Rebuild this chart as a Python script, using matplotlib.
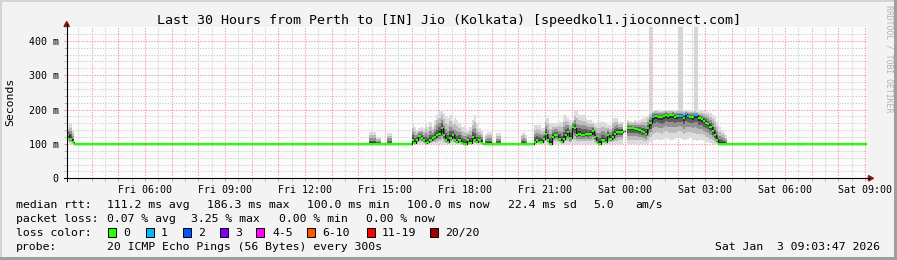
import numpy as np
import matplotlib
matplotlib.use("Agg")
import matplotlib.pyplot as plt
from matplotlib.patches import Rectangle, Polygon

# ---------------------------------------------------------------- data
title = "Last 30 Hours from Perth to [IN] Jio (Kolkata) [speedkol1.jioconnect.com]"
y_label = "Seconds"
x_tick_labels = ["Fri 06:00", "Fri 09:00", "Fri 12:00", "Fri 15:00", "Fri 18:00",
                 "Fri 21:00", "Sat 00:00", "Sat 03:00", "Sat 06:00", "Sat 09:00"]
y_tick_values = [0, 100, 200, 300, 400]
y_tick_labels = ["0", "100 m", "200 m", "300 m", "400 m"]

window_start = "Fri 03:03:47"
window_end = "Sat 09:03:47"
first_slot = "Fri 03:05"
slot_minutes = 5
n_slots = 360
baseline_ms = 100.0

# short burst at the left edge
burstA_start = "Fri 03:05"
burstA_median = [127, 115, 106]
burstA_top = [150, 160, 140]
burstA_bottom = [105, 100, 100]

# afternoon burst
burstB_start = "Fri 16:00"
burstB_median = [111, 103, 111, 123, 118, 111, 103, 106, 111, 116,
                 119, 125, 130, 145, 125, 111, 105, 118, 125, 111,
                 105, 111, 104, 100, 100, 111, 103, 121, 111, 105,
                 111, 104]
burstB_top = [160, 150, 140, 145, 150, 145, 160, 150, 165, 150,
              170, 185, 195, 198, 190, 180, 175, 185, 165, 175,
              170, 160, 150, 150, 145, 140, 150, 170, 185, 160,
              145, 140]

# evening / night burst incl. high plateau
nan = float("nan")
burstC_start = "Fri 20:35"
burstC_median = [106, 112, 106, 106, 114, 130, 111, 101, 121, 126,
                 126, 115, 105, 115, 126, 135, 118, 150, 145, 126,
                 130, 126, 126, 130, 128, 130, 137, 121, 106, 100,
                 111, 111, 106, 126, 115, 121, 130, 135, 136, 136,
                 137, nan, 145, 145, 145, 143, 143, 140, 138, 135,
                 130, 145, 160, 179, 181, 181, 179, 178, 180, 184,
                 181, 183, 184, 179, 180, 182, 182, 174, 187, 182,
                 179, 179, 184, 184, 174, 172, 167, 162, 158, 150,
                 137, 125, 110, 100]
burstC_top = [155, 155, 155, 146, 146, 175, 175, 160, 160, 160,
              160, 165, 165, 184, 184, 175, 170, 170, 195, 195,
              184, 184, 184, 175, 170, 170, 165, 160, 160, 165,
              165, 165, 160, 155, 155, 175, 175, 175, 165, 165,
              165, nan, 170, 168, 165, 170, 168, 170, 172, 175,
              178, 182, 198, 200, 200, 200, 199, 200, 200, 200,
              200, 200, 200, 199, 200, 200, 200, 200, 200, 199,
              200, 200, 199, 198, 198, 197, 196, 195, 193, 190,
              185, 178, 165, 150]
burstC_bottom = [100, 100, 100, 100, 100, 100, 100, 100, 100, 100,
                 100, 100, 100, 100, 100, 100, 100, 100, 100, 100,
                 100, 100, 100, 100, 100, 100, 100, 100, 100, 100,
                 100, 100, 100, 100, 100, 100, 100, 100, 100, 100,
                 100, nan, 100, 100, 100, 100, 100, 100, 100, 100,
                 100, 100, 105, 110, 112, 115, 112, 110, 115, 118,
                 115, 112, 110, 115, 118, 120, 115, 112, 110, 115,
                 118, 112, 110, 108, 110, 112, 108, 105, 105, 102,
                 100, 100, 100, 100]

# light smoke while the median stays at the baseline
quiet_smoke_times = ["Fri 14:25", "Fri 14:30", "Fri 14:35", "Fri 14:40", "Fri 14:45",
                     "Fri 15:05", "Fri 15:10", "Fri 18:45", "Fri 18:50", "Fri 18:55",
                     "Fri 19:10", "Fri 19:15", "Fri 20:05", "Fri 20:10", "Fri 20:15",
                     "Sat 03:35", "Sat 03:40", "Sat 03:45"]
quiet_smoke_top = [135, 135, 135, 120, 120, 133, 133, 130, 135, 135,
                   131, 131, 130, 135, 125, 140, 135, 125]

# single outlier pings that run off the top of the chart
spike_times = ["Sat 00:55", "Sat 02:00", "Sat 02:05", "Sat 02:35", "Sat 02:40"]
spike_ms = [445, 445, 445, 445, 445]

# slots with 1/20 packet loss
loss1_times = ["Sat 01:00", "Sat 02:00", "Sat 02:05", "Sat 02:15", "Sat 02:20",
               "Sat 02:35", "Sat 02:40"]

loss_labels = ["0", "1", "2", "3", "4-5", "6-10", "11-19", "20/20"]
loss_colors = ["#26ff00", "#00b8ff", "#0059ff", "#7e00ff", "#ff00ff",
               "#ff5500", "#ff0000", "#a10000"]

median_stats = ["111.2 ms avg", "186.3 ms max", "100.0 ms min", "100.0 ms now",
                "22.4 ms sd", "5.0", "am/s"]
loss_stats = ["0.07 % avg", "3.25 % max", "0.00 % min", "0.00 % now"]
probe_text = "20 ICMP Echo Pings (56 Bytes) every 300s"
stamp_text = "Sat Jan  3 09:03:47 2026"
credit_text = "RRDTOOL / TOBI OETIKER"


# ---------------------------------------------------------------- helpers
def to_hours(label):
    day, clock = label.split()
    parts = [int(p) for p in clock.split(":")]
    while len(parts) < 3:
        parts.append(0)
    return (0 if day == "Fri" else 24) + parts[0] + parts[1] / 60 + parts[2] / 3600


step_h = slot_minutes / 60
t0 = to_hours(first_slot)
slot_t = t0 + step_h * np.arange(n_slots)
med = np.full(n_slots, baseline_ms)
top = med.copy()
bot = med.copy()
loss = np.zeros(n_slots, dtype=int)


def idx(label):
    return int(round((to_hours(label) - t0) / step_h))


def put(start, m, tp, bt=None):
    i = idx(start)
    n = len(m)
    med[i:i + n] = m
    top[i:i + n] = tp
    if bt is not None:
        bot[i:i + n] = bt


put(burstA_start, burstA_median, burstA_top, burstA_bottom)
put(burstB_start, burstB_median, burstB_top)
put(burstC_start, burstC_median, burstC_top, burstC_bottom)
for tl, v in zip(quiet_smoke_times, quiet_smoke_top):
    top[idx(tl)] = v
for tl in loss1_times:
    loss[idx(tl)] = 1
top = np.where(np.isfinite(med), np.maximum(top, med), np.nan)

# ---------------------------------------------------------------- figure
W, H, DPI = 897, 260, 100
BG = "#f3f3f3"
fig = plt.figure(figsize=(W / DPI, H / DPI), dpi=DPI, facecolor=BG)

AX_L, AX_R, AX_T, AX_B = 66.7, 866.7, 27.0, 178.3
ax = fig.add_axes([AX_L / W, 1 - AX_B / H, (AX_R - AX_L) / W, (AX_B - AX_T) / H])
ax.set_facecolor("#fcfcfc")
ax.set_xlim(to_hours(window_start), to_hours(window_end))
ax.set_ylim(0, 440)

mono = "DejaVu Sans Mono"

# grid
hour_lines = np.arange(4, 34)
half_lines = np.arange(3.5, 33.5, 1.0)
x_tick_pos = [to_hours(l) for l in x_tick_labels]
lab = [x_tick_labels[x_tick_pos.index(h)] if h in x_tick_pos else "" for h in hour_lines]
ax.set_xticks(hour_lines, lab)
ax.set_xticks(half_lines, minor=True)
ax.set_yticks(y_tick_values, y_tick_labels)
ax.set_yticks(np.arange(20, 440, 20), minor=True)
ax.set_axisbelow(True)
ax.grid(which="major", color="#f2a0a0", linestyle=(0, (1.3, 1.3)), linewidth=0.75)
ax.grid(which="minor", color="#d0d0d0", linestyle=(0, (1.3, 1.3)), linewidth=0.75)

ax.tick_params(axis="both", which="major", length=2.5, width=0.7, color="#e39090",
               labelsize=7.2, labelcolor="#000000")
ax.tick_params(axis="both", which="minor", length=2.0, width=0.7, color="#b8b8b8")
ax.tick_params(axis="x", which="major", pad=2.4)
ax.tick_params(axis="y", which="major", pad=3.4)
for t in ax.get_xticklabels() + ax.get_yticklabels():
    t.set_family(mono)

for s in ["top", "right"]:
    ax.spines[s].set_visible(False)
for s in ["left", "bottom"]:
    ax.spines[s].set_color("#000000")
    ax.spines[s].set_linewidth(0.75)

# outlier spikes
for tl, v in zip(spike_times, spike_ms):
    i = idx(tl)
    ax.bar(slot_t[i], v - top[i], bottom=top[i], width=step_h, align="edge",
           color="#d6d6d6", linewidth=0, zorder=2)

# smoke
edges = np.append(slot_t, slot_t[-1] + step_h)
fracs = [1.0, 0.72, 0.48, 0.28, 0.12]
shades = ["#dcdcdc", "#bcbcbc", "#929292", "#5e5e5e", "#2e2e2e"]
for f, c in zip(fracs, shades):
    hi = med + f * (top - med)
    lo = med - f * (med - bot)
    ax.fill_between(edges, np.append(lo, lo[-1]), np.append(hi, hi[-1]), step="post",
                    color=c, linewidth=0, zorder=3)

# median line with dark connectors
ax.step(edges, np.append(med, med[-1]), where="post", color="#151515", linewidth=0.9, zorder=4)
ok = np.isfinite(med)
ax.hlines(med[ok], slot_t[ok], slot_t[ok] + step_h,
          colors=[loss_colors[k] for k in loss[ok]], linewidth=1.6, zorder=5,
          capstyle="butt")


# axis extension + arrows (pixel coordinates)
def fx(x):
    return x / W


def fy(y):
    return 1 - y / H


arrow_c = "#8b1a1a"
fig.add_artist(plt.Line2D([fx(AX_L), fx(AX_L)], [fy(AX_B + 2.5), fy(24)], color="#000000",
                          linewidth=0.75))
fig.add_artist(plt.Line2D([fx(AX_L - 2.5), fx(870)], [fy(AX_B), fy(AX_B)], color="#000000",
                          linewidth=0.75))
fig.add_artist(Polygon([[fx(AX_L - 2.7), fy(26.5)], [fx(AX_L + 2.7), fy(26.5)], [fx(AX_L), fy(21.5)]],
                       closed=True, color=arrow_c, transform=fig.transFigure))
fig.add_artist(Polygon([[fx(868.5), fy(AX_B - 2.7)], [fx(868.5), fy(AX_B + 2.7)], [fx(873.5), fy(AX_B)]],
                       closed=True, color=arrow_c, transform=fig.transFigure))

# texts
fig.text(fx(448.5), fy(24), title, family=mono, fontsize=9.6, ha="center", va="baseline",
         color="#000000")
fig.text(fx(10.5), fy(102), y_label, family=mono, fontsize=8.25, rotation=90,
         ha="center", va="center", color="#000000")
fig.text(fx(888.5), fy(5), credit_text, family=mono, fontsize=5.9, rotation=270,
         ha="center", va="top", color="#b4b4b4")

LEG = 8.25
rows = [208.3, 222.2, 236.2, 250.2]
fig.text(fx(16), fy(rows[0]), "median rtt:", family=mono, fontsize=LEG, va="baseline")
for xpos, s in zip([107.3, 207.3, 307.3, 407.3, 507.7, 593, 635], median_stats):
    fig.text(fx(xpos), fy(rows[0]), s, family=mono, fontsize=LEG, va="baseline")
fig.text(fx(16), fy(rows[1]), "packet loss:", family=mono, fontsize=LEG, va="baseline")
for xpos, s in zip([107.3, 190.7, 279.3, 365.7], loss_stats):
    fig.text(fx(xpos), fy(rows[1]), s, family=mono, fontsize=LEG, va="baseline")
fig.text(fx(16), fy(rows[2]), "loss color:", family=mono, fontsize=LEG, va="baseline")
sw_x = [108, 146, 183, 219.5, 256, 307, 367, 430]
lab_x = [123, 161, 198, 235, 272, 322, 382, 445]
for sx, lx, c, s in zip(sw_x, lab_x, loss_colors, loss_labels):
    fig.add_artist(Rectangle((fx(sx), fy(236.7)), 8.4 / W, 8.4 / H, facecolor=c,
                             edgecolor="#000000", linewidth=0.7, transform=fig.transFigure))
    fig.text(fx(lx), fy(rows[2]), s, family=mono, fontsize=LEG, va="baseline")
fig.text(fx(16), fy(rows[3]), "probe:", family=mono, fontsize=LEG, va="baseline")
fig.text(fx(107.3), fy(rows[3]), probe_text, family=mono, fontsize=LEG, va="baseline")
fig.text(fx(880), fy(rows[3]), stamp_text, family=mono, fontsize=LEG, va="baseline", ha="right")

# 3-D frame shading
fig.add_artist(Rectangle((0, 0), 1, 3 / H, facecolor="#9f9f9f", edgecolor="none",
                         transform=fig.transFigure))
fig.add_artist(Rectangle((1 - 3 / W, 0), 3 / W, 1, facecolor="#9f9f9f", edgecolor="none",
                         transform=fig.transFigure))
fig.add_artist(Rectangle((0, 1 - 2 / H), 1 - 3 / W, 2 / H, facecolor="#d4d4d4", edgecolor="none",
                         transform=fig.transFigure))
fig.add_artist(Rectangle((0, 3 / H), 2 / W, 1 - 5 / H, facecolor="#d4d4d4", edgecolor="none",
                         transform=fig.transFigure))

fig.savefig("out.png", dpi=DPI, facecolor=BG)
